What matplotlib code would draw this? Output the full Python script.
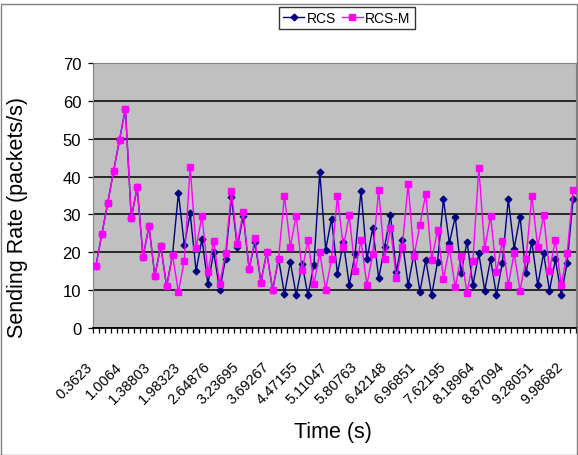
import matplotlib
matplotlib.use("Agg")
import matplotlib.pyplot as plt
from matplotlib.transforms import ScaledTranslation
from matplotlib.patches import Rectangle
import numpy as np

plt.rcParams['font.family'] = ['Liberation Sans', 'DejaVu Sans']

# Data (82 categories, time labels every 5th category)
tick_labels = ["0.3623", "1.0064", "1.38803", "1.98323", "2.64876", "3.23695",
               "3.69267", "4.47155", "5.11047", "5.80763", "6.42148", "6.96851",
               "7.62195", "8.18964", "8.87094", "9.28051", "9.98682"]
label_step = 5

rcs = [16.5, 24.8, 33.0, 41.5, 49.7, 57.9, 29.0, 37.2, 18.7, 27.0,
       13.7, 21.7, 11.0, 19.3, 35.7, 21.9, 30.3, 15.1, 23.5, 11.7,
       20.0, 10.0, 18.3, 34.6, 21.3, 29.7, 15.7, 22.6, 12.2, 20.0,
       10.0, 18.3, 9.0, 17.4, 8.7, 16.9, 8.6, 16.7, 41.2, 20.7,
       28.9, 14.3, 22.7, 11.4, 19.6, 36.3, 18.1, 26.4, 13.1, 21.4,
       29.8, 14.8, 23.2, 11.3, 19.7, 9.6, 18.0, 8.7, 17.5, 34.0,
       22.5, 29.4, 14.6, 22.8, 11.3, 19.7, 9.9, 18.1, 8.7, 17.3,
       34.0, 21.0, 29.4, 14.4, 22.8, 11.3, 19.7, 9.9, 18.1, 8.8,
       17.3, 34.0]

rcs_m = [16.5, 24.8, 33.0, 41.5, 49.7, 57.9, 29.0, 37.2, 18.7, 27.0,
         13.7, 21.7, 11.0, 19.3, 9.5, 17.8, 42.6, 21.2, 29.6, 14.8,
         23.0, 11.6, 19.7, 36.3, 22.2, 30.6, 15.5, 23.7, 12.0, 20.0,
         10.0, 18.3, 35.0, 21.5, 29.7, 15.2, 23.3, 11.5, 20.0, 10.1,
         18.2, 34.8, 21.4, 29.8, 15.1, 23.2, 11.4, 19.6, 36.5, 18.1,
         26.5, 13.2, 21.4, 38.0, 19.0, 27.2, 35.5, 17.9, 26.0, 12.9,
         21.1, 10.7, 19.0, 9.3, 17.8, 42.3, 21.0, 29.6, 14.8, 22.9,
         11.4, 19.7, 9.9, 18.1, 34.9, 21.4, 29.8, 15.1, 23.2, 11.4,
         19.7, 36.5]

n = len(rcs)
x = np.arange(n)

W, H = 578, 456
fig = plt.figure(figsize=(W / 100, H / 100), dpi=100)
fig.patch.set_facecolor('white')

left, right, top, bottom = 93, 576, 64, 329
ax = fig.add_axes([left / W, 1 - bottom / H, (right - left) / W, (bottom - top) / H])
ax.set_facecolor('#C0C0C0')

ax.plot(x, rcs, color='#000080', lw=1.0, marker='D', markersize=3.4,
        markerfacecolor='#000080', markeredgecolor='#000080', label='RCS', zorder=3)
ax.plot(x, rcs_m, color='#FF00FF', lw=1.0, marker='s', markersize=4.8,
        markerfacecolor='#FF00FF', markeredgecolor='#FF00FF', label='RCS-M', zorder=4)

ax.set_xlim(-0.5, n - 0.5)
ax.set_ylim(0, 70)
ax.set_yticks(np.arange(0, 71, 10))
ax.yaxis.grid(True, color='black', lw=1.1)
ax.set_axisbelow(True)

ax.set_xticks(np.arange(0, len(tick_labels) * label_step, label_step))
ax.set_xticklabels(tick_labels, rotation=45, ha='right', va='center',
                   rotation_mode='anchor', fontsize=10.5)
ax.set_xticks(np.arange(-0.5, n, 1.0), minor=True)
ax.tick_params(axis='x', which='major', length=0, pad=26)
ax.tick_params(axis='x', which='minor', length=3.5, width=0.9, direction='out', color='black')
ax.tick_params(axis='y', length=3.5, width=0.9, direction='out', pad=5, labelsize=12)
off = ScaledTranslation(-6 / 100, 0, fig.dpi_scale_trans)
for lab in ax.get_xticklabels():
    lab.set_transform(lab.get_transform() + off)

for s in ['top', 'right']:
    ax.spines[s].set_color('#808080')
ax.spines['left'].set_color('#808080')
ax.spines['bottom'].set_color('black')
ax.spines['bottom'].set_linewidth(1.3)

ax.set_ylabel('Sending Rate (packets/s)', fontsize=15.5)
ax.yaxis.set_label_coords(-0.135, 0.42)
ax.set_xlabel('Time (s)', fontsize=15.5)
ax.xaxis.set_label_coords(0.497, -0.35)

leg = fig.legend(loc='upper center', bbox_to_anchor=(347 / W, 1 - 8 / H), ncol=2,
                 frameon=True, fancybox=False, fontsize=10, handlelength=1.5,
                 handletextpad=0.2, columnspacing=0.4, borderpad=0.3,
                 borderaxespad=0)
leg.get_frame().set_edgecolor('black')
leg.get_frame().set_linewidth(1.0)

fig.patches.append(Rectangle((0.5 / W, 0.5 / H), 1 - 1.5 / W, 1 - 5.5 / H,
                             transform=fig.transFigure, fill=False,
                             edgecolor='#808080', lw=1.0))

fig.savefig('out.png', dpi=100)
